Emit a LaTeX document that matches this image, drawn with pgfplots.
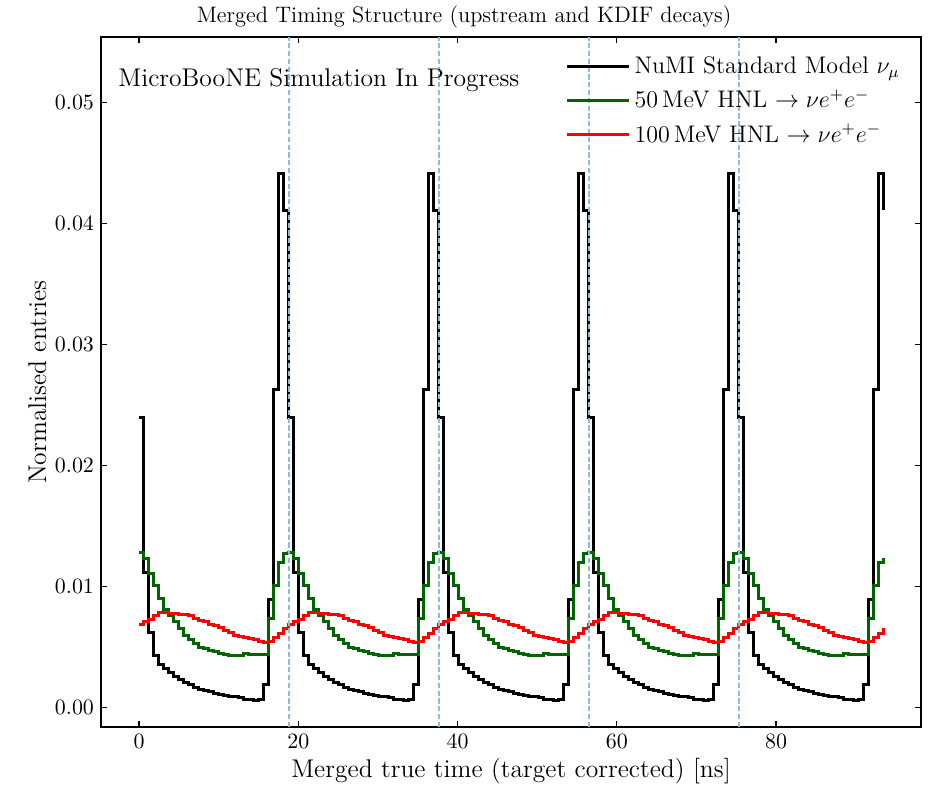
\documentclass[border=0pt]{standalone}
\usepackage{pgfplots}
\usepackage{pgfplotstable}
\pgfplotsset{compat=1.18}
\definecolor{hnlgreen}{HTML}{006400}
\definecolor{vlineblue}{RGB}{143,187,217}
\pgfplotstableread{
x b g r
0.000 0.0240 0.0128 0.0069
0.628 0.0112 0.0123 0.0071
1.255 0.0062 0.0111 0.0073
1.883 0.0043 0.0101 0.0076
2.511 0.0036 0.0090 0.0079
3.138 0.0032 0.0081 0.0079
3.766 0.0029 0.0076 0.0078
4.394 0.0026 0.0071 0.0078
5.021 0.0023 0.0065 0.0077
5.649 0.0021 0.0060 0.0077
6.277 0.0019 0.0056 0.0076
6.904 0.0017 0.0053 0.0074
7.532 0.0015 0.0050 0.0072
8.160 0.0014 0.0049 0.0071
8.787 0.0013 0.0047 0.0069
9.415 0.0012 0.0046 0.0068
10.043 0.0011 0.0045 0.0066
10.670 0.0010 0.0044 0.0064
11.298 0.0009 0.0043 0.0062
11.926 0.0009 0.0043 0.0060
12.553 0.0008 0.0043 0.0059
13.181 0.0007 0.0045 0.0058
13.809 0.0007 0.0044 0.0057
14.436 0.0006 0.0044 0.0056
15.064 0.0007 0.0044 0.0055
15.692 0.0019 0.0044 0.0054
16.319 0.0089 0.0074 0.0055
16.947 0.0263 0.0101 0.0058
17.575 0.0441 0.0120 0.0061
18.202 0.0411 0.0127 0.0065
18.830 0.0240 0.0128 0.0069
19.458 0.0112 0.0123 0.0071
20.085 0.0062 0.0111 0.0073
20.713 0.0043 0.0101 0.0076
21.341 0.0036 0.0090 0.0079
21.968 0.0032 0.0081 0.0079
22.596 0.0029 0.0076 0.0078
23.224 0.0026 0.0071 0.0078
23.851 0.0023 0.0065 0.0077
24.479 0.0021 0.0060 0.0077
25.107 0.0019 0.0056 0.0076
25.734 0.0017 0.0053 0.0074
26.362 0.0015 0.0050 0.0072
26.990 0.0014 0.0049 0.0071
27.617 0.0013 0.0047 0.0069
28.245 0.0012 0.0046 0.0068
28.873 0.0011 0.0045 0.0066
29.500 0.0010 0.0044 0.0064
30.128 0.0009 0.0043 0.0062
30.756 0.0009 0.0043 0.0060
31.383 0.0008 0.0043 0.0059
32.011 0.0007 0.0045 0.0058
32.639 0.0007 0.0044 0.0057
33.266 0.0006 0.0044 0.0056
33.894 0.0007 0.0044 0.0055
34.522 0.0019 0.0044 0.0054
35.149 0.0089 0.0074 0.0055
35.777 0.0263 0.0101 0.0058
36.405 0.0441 0.0120 0.0061
37.032 0.0411 0.0127 0.0065
37.660 0.0240 0.0128 0.0069
38.288 0.0112 0.0123 0.0071
38.915 0.0062 0.0111 0.0073
39.543 0.0043 0.0101 0.0076
40.171 0.0036 0.0090 0.0079
40.798 0.0032 0.0081 0.0079
41.426 0.0029 0.0076 0.0078
42.054 0.0026 0.0071 0.0078
42.681 0.0023 0.0065 0.0077
43.309 0.0021 0.0060 0.0077
43.937 0.0019 0.0056 0.0076
44.564 0.0017 0.0053 0.0074
45.192 0.0015 0.0050 0.0072
45.820 0.0014 0.0049 0.0071
46.447 0.0013 0.0047 0.0069
47.075 0.0012 0.0046 0.0068
47.703 0.0011 0.0045 0.0066
48.330 0.0010 0.0044 0.0064
48.958 0.0009 0.0043 0.0062
49.586 0.0009 0.0043 0.0060
50.213 0.0008 0.0043 0.0059
50.841 0.0007 0.0045 0.0058
51.469 0.0007 0.0044 0.0057
52.096 0.0006 0.0044 0.0056
52.724 0.0007 0.0044 0.0055
53.352 0.0019 0.0044 0.0054
53.979 0.0089 0.0074 0.0055
54.607 0.0263 0.0101 0.0058
55.235 0.0441 0.0120 0.0061
55.862 0.0411 0.0127 0.0065
56.490 0.0240 0.0128 0.0069
57.118 0.0112 0.0123 0.0071
57.745 0.0062 0.0111 0.0073
58.373 0.0043 0.0101 0.0076
59.001 0.0036 0.0090 0.0079
59.628 0.0032 0.0081 0.0079
60.256 0.0029 0.0076 0.0078
60.884 0.0026 0.0071 0.0078
61.511 0.0023 0.0065 0.0077
62.139 0.0021 0.0060 0.0077
62.767 0.0019 0.0056 0.0076
63.394 0.0017 0.0053 0.0074
64.022 0.0015 0.0050 0.0072
64.650 0.0014 0.0049 0.0071
65.277 0.0013 0.0047 0.0069
65.905 0.0012 0.0046 0.0068
66.533 0.0011 0.0045 0.0066
67.160 0.0010 0.0044 0.0064
67.788 0.0009 0.0043 0.0062
68.416 0.0009 0.0043 0.0060
69.043 0.0008 0.0043 0.0059
69.671 0.0007 0.0045 0.0058
70.299 0.0007 0.0044 0.0057
70.926 0.0006 0.0044 0.0056
71.554 0.0007 0.0044 0.0055
72.182 0.0019 0.0044 0.0054
72.809 0.0089 0.0074 0.0055
73.437 0.0263 0.0101 0.0058
74.065 0.0441 0.0120 0.0061
74.692 0.0411 0.0127 0.0065
75.320 0.0240 0.0128 0.0069
75.948 0.0112 0.0123 0.0071
76.575 0.0062 0.0111 0.0073
77.203 0.0043 0.0101 0.0076
77.831 0.0036 0.0090 0.0079
78.458 0.0032 0.0081 0.0079
79.086 0.0029 0.0076 0.0078
79.714 0.0026 0.0071 0.0078
80.341 0.0023 0.0065 0.0077
80.969 0.0021 0.0060 0.0077
81.597 0.0019 0.0056 0.0076
82.224 0.0017 0.0053 0.0074
82.852 0.0015 0.0050 0.0072
83.480 0.0014 0.0049 0.0071
84.107 0.0013 0.0047 0.0069
84.735 0.0012 0.0046 0.0068
85.363 0.0011 0.0045 0.0066
85.990 0.0010 0.0044 0.0064
86.618 0.0009 0.0043 0.0062
87.246 0.0009 0.0043 0.0060
87.873 0.0008 0.0043 0.0059
88.501 0.0007 0.0045 0.0058
89.129 0.0007 0.0044 0.0057
89.756 0.0006 0.0044 0.0056
90.384 0.0007 0.0044 0.0055
91.012 0.0019 0.0044 0.0054
91.639 0.0089 0.0074 0.0055
92.267 0.0263 0.0101 0.0058
92.895 0.0441 0.0120 0.0061
93.522 0.0411 0.0124 0.0066
}\datatable
\begin{document}
\begin{tikzpicture}
\useasboundingbox (-50.5pt,-28.5pt) rectangle (413.5pt,363.5pt);
\begin{axis}[
  scale only axis, width=410pt, height=345pt,
  xmin=-4.77, xmax=98.2, ymin=-0.0016, ymax=0.0554,
  xtick={0,20,40,60,80},
  ytick={0,0.01,0.02,0.03,0.04,0.05},
  scaled y ticks=false,
  yticklabel style={/pgf/number format/fixed, /pgf/number format/precision=2, /pgf/number format/fixed zerofill},
  tick align=inside, major tick length=3pt, minor tick num=0,
  axis line style={line width=0.8pt},
  every tick/.style={black, line width=0.6pt},
  tick label style={font=\fontsize{11}{13}\selectfont},
  label style={font=\fontsize{12.8}{15}\selectfont},
  every axis title shift=0pt,
  title style={font=\fontsize{11.2}{13}\selectfont, at={(axis description cs:0.4427,1)}, anchor=base, yshift=7.5pt},
  title={Merged Timing Structure (upstream and KDIF decays)},
  xlabel={Merged true time (target corrected) [ns]},
  ylabel={Normalised entries},
  xlabel style={at={(axis description cs:0.5,0)}, anchor=base, yshift=-25pt},
  ylabel style={at={(axis description cs:-0.067,0.5)}, anchor=base},
  legend style={draw=none, fill=none, at={(axis description cs:0.566,0.978)}, anchor=north west, inner sep=0pt,
    font=\fontsize{12}{14}\selectfont, row sep=2.5pt, legend cell align=left},
  legend image code/.code={\draw[#1] (0pt,0pt) -- (26pt,0pt); \path (0pt,0pt) -- (31pt,0pt);},
  clip=true,
]
\addplot[const plot, black, line width=1.5pt] table[x=x,y=b]{\datatable};
\addlegendentry{NuMI Standard Model $\nu_\mu$}
\addplot[const plot, hnlgreen, line width=1.5pt] table[x=x,y=g]{\datatable};
\addlegendentry{50\,MeV HNL $\rightarrow \nu e^{+}e^{-}$}
\addplot[const plot, red, line width=1.5pt] table[x=x,y=r]{\datatable};
\addlegendentry{100\,MeV HNL $\rightarrow \nu e^{+}e^{-}$}
\addplot[forget plot, vlineblue, line width=0.75pt, dash pattern=on 2.6pt off 1.3pt] coordinates {(18.83,-0.0016) (18.83,0.0554)};
\addplot[forget plot, vlineblue, line width=0.75pt, dash pattern=on 2.6pt off 1.3pt] coordinates {(37.66,-0.0016) (37.66,0.0554)};
\addplot[forget plot, vlineblue, line width=0.75pt, dash pattern=on 2.6pt off 1.3pt] coordinates {(56.49,-0.0016) (56.49,0.0554)};
\addplot[forget plot, vlineblue, line width=0.75pt, dash pattern=on 2.6pt off 1.3pt] coordinates {(75.32,-0.0016) (75.32,0.0554)};
\node[anchor=base west, inner sep=0pt, font=\fontsize{12.8}{15}\selectfont] at (axis description cs:0.0207,0.928) {MicroBooNE Simulation In Progress};
\end{axis}
\end{tikzpicture}
\end{document}
